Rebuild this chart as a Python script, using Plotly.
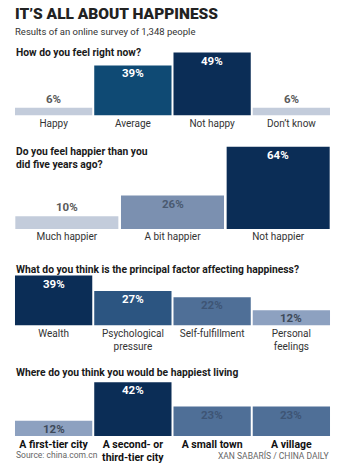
import plotly.graph_objects as go

W, H = 348, 464

# ---- data ----
q1_labels = ["Happy", "Average", "Not happy", "Don’t know"]
q1_values = [6, 39, 49, 6]
q2_labels = ["Much happier", "A bit happier", "Not happier"]
q2_values = [10, 26, 64]
q3_labels = ["Wealth", "Psychological<br>pressure", "Self-fulfillment", "Personal<br>feelings"]
q3_values = [39, 27, 22, 12]
q4_labels = ["A first-tier city", "A second- or<br>third-tier city", "A small town", "A village"]
q4_values = [12, 42, 23, 23]

questions = [
    "How do you feel right now?",
    "Do you feel happier than you<br>did five years ago?",
    "What do you think is the principal factor affecting happiness?",
    "Where do you think you would be happiest living",
]

# ---- styles ----
LIGHT = "#c3ccdb"
MID_L = "#8da1c0"
MID = "#7b90b0"
MID_D = "#4f6f97"
BLUE = "#0f4a74"
BLUE2 = "#2c5581"
NAVY = "#0b2d56"
q1_colors = [LIGHT, BLUE, NAVY, LIGHT]
q2_colors = [LIGHT, MID, NAVY]
q3_colors = [NAVY, BLUE2, MID_D, MID_L]
q4_colors = [MID_L, NAVY, MID_D, MID_D]
q1_txt = ["#5a5a5a", "white", "white", "#5a5a5a"]
q2_txt = ["#5a5a5a", "#4a5a70", "white"]
q3_txt = ["white", "white", "#3e5575", "#3e4a5a"]
q4_txt = ["#3e4a5a", "white", "#3e5575", "#3e5575"]

# panel geometry in pixels: (baseline, top)
panels = [(116, 50), (230, 145), (327, 276), (438, 382)]
scale = 1.29  # px per percent
x0, x1 = 14 / W, 331 / W

datasets = [
    (q1_labels, q1_values, q1_colors, q1_txt, False),
    (q2_labels, q2_values, q2_colors, q2_txt, False),
    (q3_labels, q3_values, q3_colors, q3_txt, False),
    (q4_labels, q4_values, q4_colors, q4_txt, True),
]

fig = go.Figure()
annotations = []
FONT = "Roboto, Liberation Sans, sans-serif"

for i, ((labels, values, colors, txtc, boldlab), (base, top)) in enumerate(zip(datasets, panels)):
    n = i + 1
    xa = "x" if n == 1 else f"x{n}"
    ya = "y" if n == 1 else f"y{n}"
    fig.add_trace(go.Bar(
        x=labels, y=values, marker=dict(color=colors, line=dict(width=0)),
        xaxis=xa, yaxis=ya, showlegend=False, hoverinfo="skip",
    ))
    rng = (base - top) / scale
    gap = 0.025 if len(labels) == 4 else 0.019
    layout_x = dict(
        domain=[x0, x1], anchor=ya, type="category", showgrid=False, zeroline=False,
        showline=False, ticks="", fixedrange=True,
        tickfont=dict(family=FONT, size=10.5 if boldlab else 10, color="#111" if boldlab else "#333",
                      weight="bold" if boldlab else "normal"),
        ticklabelstandoff=0,
    )
    layout_y = dict(
        domain=[1 - base / H, 1 - top / H], anchor=xa, range=[0, rng], visible=False, fixedrange=True,
    )
    fig.update_layout(**{("xaxis" if n == 1 else f"xaxis{n}"): layout_x,
                         ("yaxis" if n == 1 else f"yaxis{n}"): layout_y})
    fig.update_layout(**{"bargap": gap})
    for lab, v, tc in zip(labels, values, txtc):
        inside = v >= 12
        annotations.append(dict(
            x=lab, y=v, xref=xa, yref=ya, text=f"{v}%", showarrow=False,
            yanchor="top" if inside else "bottom", yshift=1 if inside else 0,
            font=dict(family=FONT, size=11.5, color=tc, weight="bold"),
        ))

# titles
annotations.append(dict(x=14 / W, y=1 - 14.5 / H, xref="paper", yref="paper", xanchor="left", yanchor="middle",
                        text="IT’S ALL ABOUT HAPPINESS", showarrow=False, borderpad=0,
                        font=dict(family=FONT, size=15.5, color="#222", weight=900)))
annotations.append(dict(x=14 / W, y=1 - 32 / H, xref="paper", yref="paper", xanchor="left", yanchor="middle",
                        text="Results of an online survey of 1,348 people", showarrow=False, borderpad=0,
                        font=dict(family=FONT, size=9.5, color="#333")))
q_pos = [53, 159, 271, 374]
for q, yp in zip(questions, q_pos):
    annotations.append(dict(x=14 / W, y=1 - yp / H, xref="paper", yref="paper", xanchor="left",
                            yanchor="middle", align="left", text=q, showarrow=False,
                            font=dict(family=FONT, size=10.3, color="#1a1a1a", weight="bold")))
annotations.append(dict(x=14 / W, y=1 - 457 / H, xref="paper", yref="paper", xanchor="left", yanchor="middle",
                        text="Source: china.com.cn", showarrow=False,
                        font=dict(family=FONT, size=8.5, color="#666")))
annotations.append(dict(x=331 / W, y=1 - 457 / H, xref="paper", yref="paper", xanchor="right", yanchor="middle",
                        text="XAN SABARÍS / CHINA DAILY", showarrow=False,
                        font=dict(family=FONT, size=8.5, color="#666")))

fig.update_layout(
    width=W, height=H, margin=dict(l=0, r=0, t=0, b=0),
    paper_bgcolor="white", plot_bgcolor="white",
    annotations=annotations, showlegend=False,
)

fig.write_html("out.html", config={"displayModeBar": False})
